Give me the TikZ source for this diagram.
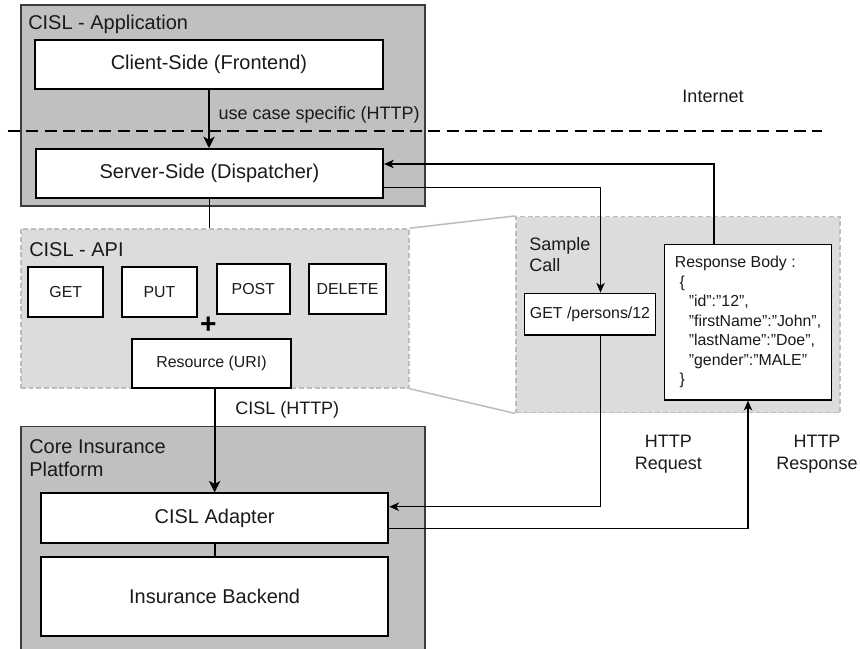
\documentclass[tikz,border=0pt]{standalone}
\usepackage{fontspec}
\setmainfont{Liberation Sans}
% plain quotes for the JSON body
\setmonofont{Liberation Sans}
\usepackage{tikz}
\usetikzlibrary{arrows.meta,positioning,calc}
\definecolor{LayerGray}{HTML}{C0C0C0}
\definecolor{LayerEdge}{HTML}{3C3C3C}
\definecolor{ApiGray}{HTML}{DCDCDC}
\definecolor{ApiEdge}{HTML}{BDBDBD}
\definecolor{InkBlack}{HTML}{1A1A1A}
\tikzset{
    % Big shaded layers (application / core platform)
    layerbox/.style={
        draw=LayerEdge,
        fill=LayerGray,
        line width=0.8pt
    },
    % Dashed light areas (API / sample call)
    apibox/.style={
        draw=ApiEdge,
        fill=ApiGray,
        line width=1.1pt,
        dash pattern=on 3.5pt off 2pt
    },
    % Titles of the layers
    layertitle/.style={
        anchor=west,
        inner sep=0pt,
        align=left,
        text=InkBlack,
        font=\fontsize{14.2}{16.5}\selectfont
    },
    % White component box
    compbox/.style={
        draw=black,
        fill=white,
        line width=1.4pt,
        align=center,
        text=InkBlack,
        inner sep=0pt,
        font=\fontsize{14.2}{17}\selectfont
    },
    % HTTP verb boxes
    verbbox/.style={
        compbox,
        font=\fontsize{11.3}{13}\selectfont
    },
    % Sample call boxes
    callbox/.style={
        draw=black,
        fill=white,
        line width=0.9pt,
        text=InkBlack,
        inner sep=0pt,
        font=\fontsize{11.3}{13.9}\selectfont
    },
    % Connector labels
    linklabel/.style={
        inner sep=0pt,
        align=center,
        text=InkBlack,
        font=\fontsize{12.8}{15.5}\selectfont
    },
    % Arrow styles
    thickarrow/.style={
        -{Stealth[length=8pt,width=8pt,inset=2pt]},
        line width=1.4pt,
        draw=black
    },
    thickline/.style={
        line width=1.4pt,
        draw=black
    },
    thinarrow/.style={
        -{Stealth[length=7pt,width=6pt,inset=2pt]},
        line width=0.85pt,
        draw=black
    }
}
\begin{document}
\begin{tikzpicture}
    \useasboundingbox (0,0) rectangle (21.5,16.225);

    % Application layer
    \node[layerbox, minimum width=10.1cm, minimum height=5.025cm] (app) at (5.575,13.5875) {};
    \node[layertitle] (apptitle) at (0.7,15.625) {CISL - Application};
    \node[compbox, minimum width=8.7cm, minimum height=1.225cm] (client) at (5.225,14.6125) {Client-Side (Frontend)};
    \node[compbox, minimum width=8.675cm, minimum height=1.225cm] (server) at (5.2375,11.8875) {Server-Side (Dispatcher)};

    % Internet border
    \coordinate (netleft) at (0.2,12.95);
    \coordinate (netright) at (20.54,12.95);
    \draw[line width=1.4pt, dash pattern=on 8.5pt off 4.5pt] (netleft) -- (netright);
    \node[linklabel] (internet) at (17.825,13.81) {Internet};

    \draw[thickarrow] (client.south) -- (client.south |- server.north);
    \node[linklabel, anchor=west] (uselabel) at (5.46,13.35) {use case specific (HTTP)};

    % API layer
    \node[apibox, minimum width=9.705cm, minimum height=3.975cm] (api) at (5.3725,8.5125) {};
    \node[apibox, minimum width=8.1cm, minimum height=4.9cm] (sample) at (16.95,8.3575) {};
    \draw[ApiEdge, line width=1.1pt] (api.north east) -- (sample.north west);
    \draw[ApiEdge, line width=1.1pt] (api.south east) -- (sample.south west);
    \draw[thickline] (server.south) -- (server.south |- api.north);

    \node[layertitle] (apititle) at (0.725,9.975) {CISL - API};
    \node[verbbox, minimum width=1.875cm, minimum height=1.265cm] (get) at (1.645,8.925) {GET};
    \node[verbbox, minimum width=1.89cm, minimum height=1.265cm] (put) at (3.985,8.925) {PUT};
    \node[verbbox, minimum width=1.833cm, minimum height=1.25cm] (post) at (6.333,8.992) {POST};
    \node[verbbox, minimum width=1.91cm, minimum height=1.25cm] (delete) at (8.6875,8.992) {DELETE};
    \node[inner sep=0pt, font=\fontsize{20}{20}\selectfont\bfseries] (plus) at (5.21,8.1) {+};
    \node[verbbox, minimum width=3.96cm, minimum height=1.225cm] (resource) at (5.2875,7.13) {Resource (URI)};

    % Sample call
    \node[linklabel, anchor=west, align=left] (sampletitle) at (13.23,9.86) {Sample\\Call};
    \node[callbox, minimum width=3.285cm, minimum height=1.0425cm] (getcall) at (14.75,8.371) {GET /persons/12};
    \node[callbox, align=left, minimum width=4.185cm, minimum height=3.8925cm] (resp) at (18.7,8.171)
        {\ttfamily Response Body :\\
         \hspace*{0.12cm}\{\\
         \hspace*{0.35cm}"id":"12",\\
         \hspace*{0.35cm}"firstName":"John",\\
         \hspace*{0.35cm}"lastName":"Doe",\\
         \hspace*{0.35cm}"gender":"MALE"\\
         \hspace*{0.12cm}\}};

    % Core platform
    \node[layerbox, minimum width=10.1cm, minimum height=5.8575cm] (core) at (5.575,2.629) {};
    \node[layertitle] (coretitle) at (0.725,4.775) {Core Insurance\\Platform};
    \node[compbox, minimum width=8.68cm, minimum height=1.25cm] (adapter) at (5.366,3.2675) {CISL Adapter};
    \node[compbox, minimum width=8.68cm, minimum height=1.9675cm] (backend) at (5.366,1.309) {Insurance Backend};

    \draw[thickarrow] (resource.south -| adapter.north) -- (adapter.north);
    \node[linklabel, anchor=west] (cisllabel) at (5.875,5.975) {CISL (HTTP)};
    \draw[thickline] (adapter) -- (backend);

    % Request / response round trip
    \draw[thinarrow] ([yshift=-0.355cm]server.east) -| ([xshift=0.2625cm]getcall.north);
    \draw[thinarrow] ([xshift=-0.85cm]resp.north) |- ([yshift=0.2375cm]server.east);
    \draw[thinarrow] ([xshift=0.2625cm]getcall.south) |- ([yshift=0.29cm]adapter.east);
    \draw[thinarrow] ([yshift=-0.25cm]adapter.east) -| (resp.south);
    \node[linklabel] (reqlabel) at (16.71,4.875) {HTTP\\Request};
    \node[linklabel] (resplabel) at (20.425,4.875) {HTTP\\Response};
\end{tikzpicture}
\end{document}
